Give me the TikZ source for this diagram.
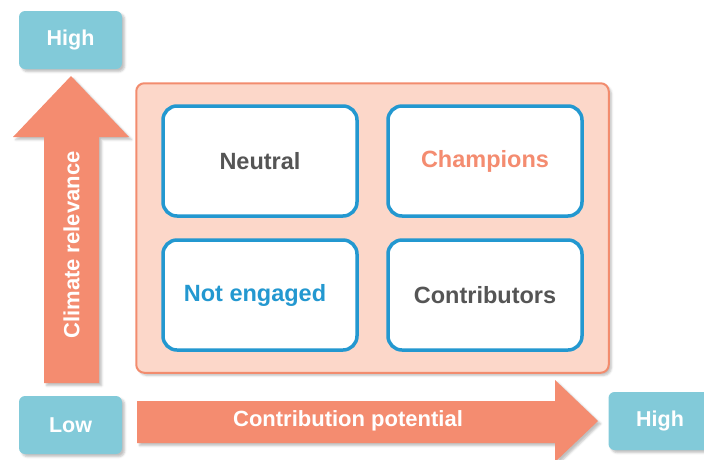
\documentclass[tikz,border=0pt]{standalone}
\usepackage{fontspec}
\setmainfont{Liberation Sans}
\usetikzlibrary{positioning,fit,backgrounds,shadows.blur}
\definecolor{csky}{RGB}{130,202,217}
\definecolor{csalmon}{RGB}{244,140,112}
\definecolor{cpanel}{RGB}{252,215,201}
\definecolor{cpanelline}{RGB}{242,140,110}
\definecolor{cblue}{RGB}{35,152,208}
\definecolor{cgray}{RGB}{85,85,85}

\begin{document}
\begin{tikzpicture}[x=1pt,y=-1pt,
  tag/.style={fill=csky,rounded corners=6pt,text=white,minimum width=103pt,minimum height=58pt,
    font=\fontsize{21.5}{24}\selectfont\bfseries,blur shadow={shadow opacity=25}},
  cell/.style={draw=cblue,line width=3.5pt,fill=white,rounded corners=14pt,
    minimum width=194pt,minimum height=110pt,font=\fontsize{23.5}{26}\selectfont\bfseries},
  panel/.style={draw=cpanelline,line width=2pt,fill=cpanel,rounded corners=8pt,blur shadow={shadow opacity=25}},
  axis/.style={fill=csalmon,blur shadow={shadow opacity=25}},
  axislabel/.style={text=white,font=\fontsize{22}{26}\selectfont\bfseries},
]
\useasboundingbox (0,0) rectangle (704,459);

% the two axes
\fill[axis] (44,383) -- (44,137) -- (13,137) -- (71,76) -- (129,137) -- (99,137) -- (99,383) -- cycle;
\fill[axis] (137,401) -- (555,401) -- (555,380) -- (598,421) -- (555,462) -- (555,443) -- (137,443) -- cycle;
\node[axislabel,rotate=90] (relevance) at (71.5,245) {Climate relevance};
\node[axislabel] (potential) at (348,421) {Contribution potential};

\node[tag] (yhigh) at (70.5,40) {High};
\node[tag] (ylow) at (70.5,425) {Low};
\node[tag] (xhigh) at (660,421) {High};

% the 2x2 grid
\node[cell,text=cgray] (neutral) at (260,161) {Neutral};
\node[cell,text=csalmon,right=27.5pt of neutral] (champions) {Champions};
\node[cell,text=cblue,below=20.5pt of neutral] (notengaged) {Not engaged\hspace*{10pt}};
\node[cell,text=cgray,right=27.5pt of notengaged] (contributors) {Contributors};

\begin{scope}[on background layer]
\node[panel,fit=(neutral)(contributors),inner xsep=25pt,inner ysep=21pt] (board) {};
\end{scope}
\end{tikzpicture}
\end{document}
